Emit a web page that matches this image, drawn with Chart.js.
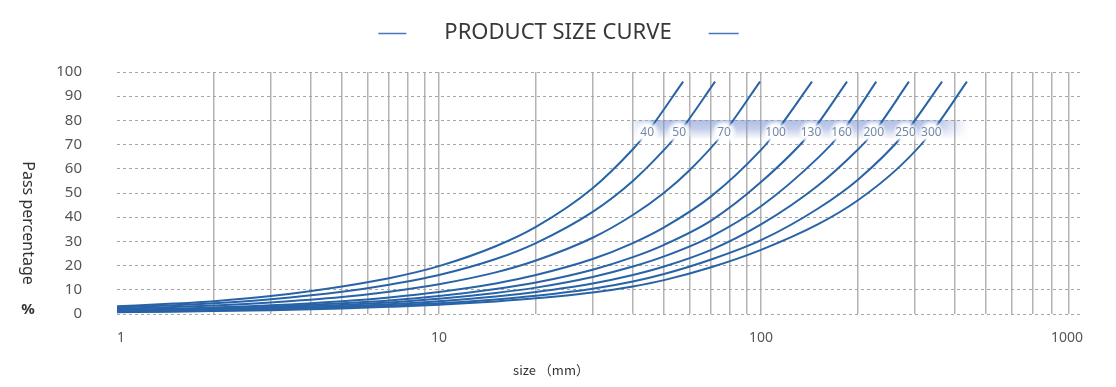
<!DOCTYPE html>
<html>
<head>
<meta charset="utf-8">
<script src="https://cdn.jsdelivr.net/npm/chart.js@4.4.1/dist/chart.umd.min.js"></script>
<style>
  html, body { margin: 0; padding: 0; background: #fff; }
</style>
</head>
<body>
<canvas id="size-chart" width="1116" height="387"></canvas>
<script>
// x axis: log ticks, labels only on decades
var sizeTicks = [1, 2, 3, 4, 5, 6, 7, 8, 9, 10, 20, 30, 40, 50, 60, 70, 80, 90,
                 100, 200, 300, 400, 500, 600, 700, 800, 900, 1000];
var decadeLabels = { 1: "1", 10: "10", 100: "100", 1000: "1000" };

var curveNames = ["40", "50", "70", "100", "130", "160", "200", "250", "300"];

// size (mm) / pass (%), one pair per curve
var size40 = [1, 1.5, 2, 3, 5, 7, 10, 15, 20, 30, 40, 44.3, 57.3];
var pass40 = [3.2, 4.3, 5.3, 7.4, 11.4, 14.8, 19.8, 28, 36, 52, 68.1, 75, 96];
var size50 = [1, 1.5, 2, 3, 5, 7, 10, 15, 20, 30, 40, 50, 55.7, 72];
var pass50 = [2.7, 3.6, 4.45, 6.1, 9.2, 12.1, 16.1, 22.7, 29.3, 42.2, 55, 67.8, 75, 96];
var size70 = [1, 1.5, 2, 3, 5, 7, 10, 15, 20, 30, 40, 50, 60, 76.8, 99.3];
var pass70 = [2.15, 2.85, 3.5, 4.75, 7.0, 9.2, 12.3, 17.2, 22.1, 31.5, 40.9, 50.1, 59.4, 75, 96];
var size100 = [1, 1.5, 2, 3, 5, 7, 10, 15, 20, 30, 40, 50, 70, 100, 111, 144];
var pass100 = [1.7, 2.2, 2.7, 3.6, 5.3, 6.85, 9.1, 12.6, 16.1, 22.7, 29.3, 35.8, 48.6, 67.8, 75, 96];
var size130 = [1, 1.5, 2, 3, 5, 7, 10, 15, 20, 30, 40, 50, 70, 100, 143, 185];
var pass130 = [1.42, 1.85, 2.26, 3.0, 4.4, 5.6, 7.4, 10.3, 13, 18.3, 23.5, 28.6, 38.6, 54.5, 75, 96];
var size160 = [1, 1.5, 2, 3, 5, 7, 10, 15, 20, 30, 40, 50, 70, 100, 150, 178, 228];
var pass160 = [1.24, 1.6, 1.96, 2.6, 3.75, 4.8, 6.3, 8.7, 10.9, 15.3, 19.6, 23.8, 32, 44.5, 64.4, 75, 96];
var size200 = [1, 1.5, 2, 3, 5, 7, 10, 15, 20, 30, 40, 50, 70, 100, 150, 200, 224, 288];
var pass200 = [1.07, 1.39, 1.67, 2.2, 3.15, 4.05, 5.3, 7.2, 9.1, 12.6, 16.1, 19.6, 26.5, 37, 53, 68, 75, 96];
var size250 = [1, 1.5, 2, 3, 5, 7, 10, 15, 20, 30, 40, 50, 70, 100, 150, 200, 281, 365];
var pass250 = [0.93, 1.19, 1.43, 1.87, 2.66, 3.4, 4.4, 6.0, 7.5, 10.4, 13.4, 16.5, 22.5, 30.5, 43.5, 55.5, 75, 96];
var size300 = [1, 1.5, 2, 3, 5, 7, 10, 15, 20, 30, 40, 50, 70, 100, 150, 200, 270, 338, 436];
var pass300 = [0.75, 0.98, 1.2, 1.6, 2.3, 2.95, 3.8, 5.2, 6.5, 8.9, 11.4, 14, 19.3, 26.5, 37, 47, 61, 75, 96];

// where each curve's name sits (on the curve, at 75 %)
var labelSizes = [44.3, 55.7, 76.8, 111, 143, 178, 224, 281, 338];
var labelPass = 75;

// shaded band behind the names
var bandSizes = [38.6, 440];
var bandPass = [80, 72.5];

(function () {
    var canvas = document.getElementById("size-chart");
    var ctx = canvas.getContext("2d");

    var sizes = [size40, size50, size70, size100, size130, size160, size200, size250, size300];
    var passes = [pass40, pass50, pass70, pass100, pass130, pass160, pass200, pass250, pass300];

    var lineColor = "#2963a7";
    var textFont = '"Noto Sans", "Noto Sans CJK SC", sans-serif';

    var datasets = curveNames.map(function (name, i) {
        return {
            label: name,
            data: sizes[i].map(function (s, j) { return { x: s, y: passes[i][j] }; }),
            borderColor: lineColor,
            borderWidth: 2,
            pointRadius: 0,
            fill: false,
            cubicInterpolationMode: "monotone",
        };
    });

    var decor = {
        id: "decor",
        beforeDatasetsDraw: function (chart) {
            var xs = chart.scales.x, ys = chart.scales.y, c = chart.ctx;
            var x0 = xs.getPixelForValue(bandSizes[0]), x1 = xs.getPixelForValue(bandSizes[1]);
            var y0 = ys.getPixelForValue(bandPass[0]), y1 = ys.getPixelForValue(bandPass[1]);
            var w = Math.ceil(x1 - x0), h = Math.ceil(y1 - y0);
            var off = document.createElement("canvas");
            off.width = w; off.height = h;
            var o = off.getContext("2d");
            var hg = o.createLinearGradient(0, 0, w, 0);
            hg.addColorStop(0, "rgba(125,148,210,0)");
            hg.addColorStop(0.07, "rgba(125,148,210,0.6)");
            hg.addColorStop(0.9, "rgba(125,148,210,0.6)");
            hg.addColorStop(1, "rgba(125,148,210,0)");
            o.fillStyle = hg;
            o.fillRect(0, 0, w, h);
            o.globalCompositeOperation = "destination-in";
            var vg = o.createLinearGradient(0, 0, 0, h);
            vg.addColorStop(0, "rgba(0,0,0,1)");
            vg.addColorStop(0.45, "rgba(0,0,0,0.75)");
            vg.addColorStop(1, "rgba(0,0,0,0)");
            o.fillStyle = vg;
            o.fillRect(0, 0, w, h);
            c.drawImage(off, x0, y0);
        },
        afterDatasetsDraw: function (chart) {
            var xs = chart.scales.x, ys = chart.scales.y, c = chart.ctx;
            var y = ys.getPixelForValue(labelPass);
            c.save();
            labelSizes.forEach(function (s, i) {
                var x = xs.getPixelForValue(s);
                var g = c.createRadialGradient(x, y, 0, x, y, 13);
                g.addColorStop(0, "rgba(255,255,255,1)");
                g.addColorStop(0.6, "rgba(255,255,255,0.95)");
                g.addColorStop(1, "rgba(255,255,255,0)");
                c.fillStyle = g;
                c.beginPath();
                c.arc(x, y, 13, 0, Math.PI * 2);
                c.fill();
                c.fillStyle = "#7388a8";
                c.font = "12px " + textFont;
                c.textAlign = "center";
                c.textBaseline = "middle";
                c.fillText(curveNames[i], x, y);
            });
            c.restore();
        },
        afterDraw: function (chart) {
            var c = chart.ctx;
            c.save();
            // title with a short stroke on each side
            c.font = "22px " + textFont;
            c.fillStyle = "#383838";
            c.textAlign = "center";
            c.textBaseline = "middle";
            var title = "PRODUCT SIZE CURVE";
            c.fillText(title, 558, 33);
            var tw = c.measureText(title).width;
            c.strokeStyle = "#4677bd";
            c.lineWidth = 1.5;
            c.beginPath();
            c.moveTo(558 - tw / 2 - 38, 33.5);
            c.lineTo(558 - tw / 2 - 66, 33.5);
            c.moveTo(558 + tw / 2 + 37, 33.5);
            c.lineTo(558 + tw / 2 + 67, 33.5);
            c.stroke();

            // y title, read top to bottom
            c.font = "16px " + textFont;
            c.fillStyle = "#333";
            c.translate(28, 223);
            c.rotate(Math.PI / 2);
            c.fillText("Pass percentage", 0, 0);
            c.restore();

            c.save();
            c.font = "bold 15px " + textFont;
            c.fillStyle = "#333";
            c.textAlign = "center";
            c.textBaseline = "middle";
            c.fillText("%", 28, 310);

            c.font = '13px "Noto Sans CJK SC", sans-serif';
            c.fillText("size （mm）", 551, 370);
            c.restore();
        },
    };

    new Chart(ctx, {
        type: "line",
        data: { datasets: datasets },
        plugins: [decor],
        options: {
            responsive: false,
            animation: false,
            layout: { padding: { top: 72, right: 33, left: 0, bottom: 0 } },
            scales: {
                x: {
                    type: "logarithmic",
                    min: 1,
                    max: 1000,
                    afterBuildTicks: function (scale) {
                        scale.ticks = sizeTicks.map(function (v) { return { value: v }; });
                    },
                    afterFit: function (scale) { scale.height = 73; },
                    grid: {
                        drawTicks: false,
                        lineWidth: 1.5,
                        color: function (ctx) {
                            var v = ctx.tick && ctx.tick.value;
                            return (v === 1 || v === 1000) ? "rgba(0,0,0,0)" : "#b3b3b3";
                        },
                    },
                    border: { display: false },
                    ticks: {
                        autoSkip: false,
                        maxRotation: 0,
                        align: "inner",
                        padding: 16,
                        color: "#555",
                        font: { family: textFont, size: 14 },
                        callback: function (v) { return decadeLabels[v] || ""; },
                    },
                },
                y: {
                    min: 0,
                    max: 100,
                    afterFit: function (scale) { scale.width = 117; },
                    grid: { drawTicks: false, color: "#a6a6a6", lineWidth: 1 },
                    border: { display: false, dash: [3, 3] },
                    ticks: {
                        stepSize: 10,
                        padding: 35,
                        color: "#555",
                        font: { family: textFont, size: 15 },
                    },
                },
            },
            plugins: {
                legend: { display: false },
                tooltip: { enabled: false },
            },
        },
    });
})();
</script>
</body>
</html>
